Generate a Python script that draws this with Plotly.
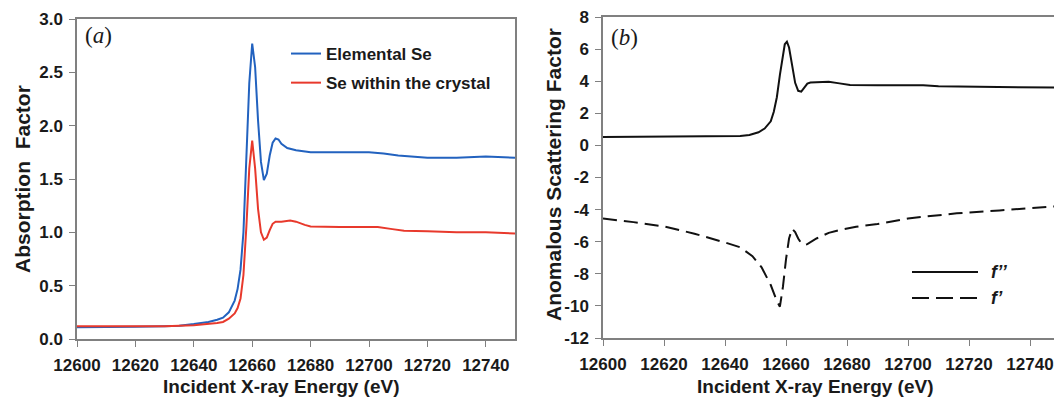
import plotly.graph_objects as go

# ---------------- data ----------------
energy_a = [12600, 12610, 12620, 12630, 12635, 12640, 12645, 12648, 12650, 12652,
            12653, 12654, 12655, 12656, 12657, 12658, 12659, 12660, 12661, 12662,
            12663, 12664, 12665, 12666, 12667, 12668, 12669, 12670, 12672, 12675,
            12680, 12690, 12700, 12705, 12710, 12720, 12730, 12740, 12750]
elemental_se = [0.11, 0.11, 0.115, 0.12, 0.125, 0.14, 0.16, 0.18, 0.20, 0.25,
                0.30, 0.36, 0.47, 0.65, 1.00, 1.70, 2.40, 2.77, 2.55, 2.05,
                1.66, 1.49, 1.55, 1.72, 1.84, 1.88, 1.87, 1.83, 1.79, 1.77,
                1.75, 1.75, 1.75, 1.74, 1.72, 1.70, 1.70, 1.71, 1.70]

energy_b = [12600, 12620, 12630, 12640, 12645, 12648, 12650, 12652, 12654, 12655,
            12656, 12657, 12658, 12659, 12660, 12661, 12662, 12663, 12664, 12665,
            12666, 12667, 12668, 12670, 12673, 12675, 12678, 12680, 12690, 12700,
            12703, 12708, 12712, 12720, 12730, 12740, 12750]
crystal_se = [0.12, 0.12, 0.12, 0.13, 0.14, 0.15, 0.16, 0.19, 0.24, 0.29,
              0.38, 0.60, 1.05, 1.60, 1.86, 1.60, 1.22, 1.00, 0.93, 0.95,
              1.02, 1.08, 1.10, 1.10, 1.11, 1.10, 1.07, 1.055, 1.05, 1.05,
              1.05, 1.03, 1.015, 1.01, 1.00, 1.00, 0.99]

energy_fpp = [12600, 12620, 12640, 12645, 12648, 12651, 12653, 12655, 12656, 12657,
              12658, 12659, 12659.6, 12660.3, 12661, 12662, 12663, 12664, 12665, 12666,
              12667, 12668, 12671, 12674, 12677, 12681, 12690, 12700, 12705, 12710,
              12720, 12730, 12748]
f_double_prime = [0.52, 0.53, 0.56, 0.58, 0.65, 0.82, 1.05, 1.5, 2.1, 3.0,
                  4.4, 5.7, 6.3, 6.46, 6.1, 5.0, 3.9, 3.4, 3.35, 3.6,
                  3.85, 3.92, 3.95, 3.97, 3.88, 3.76, 3.75, 3.76, 3.74, 3.68,
                  3.65, 3.62, 3.6]

energy_fp = [12600, 12610, 12620, 12630, 12640, 12645, 12649, 12652, 12655, 12657,
             12658, 12659, 12660, 12661, 12662, 12663, 12664, 12665, 12666, 12667,
             12670, 12674, 12678, 12683, 12690, 12700, 12705, 12716, 12730, 12740,
             12748]
f_prime = [-4.56, -4.78, -5.05, -5.5, -6.05, -6.35, -6.9, -7.6, -8.7, -9.7,
           -10.05, -8.8, -7.1, -5.8, -5.2, -5.4, -5.8, -6.1, -6.2, -6.15,
           -5.8, -5.45, -5.25, -5.07, -4.9, -4.55, -4.45, -4.23, -4.05, -3.92,
           -3.8]

x_ticks = [12600, 12620, 12640, 12660, 12680, 12700, 12720, 12740]
x_tick_text = ["12600", "12620", "12640", "12660", "12680", "12700", "12720", "12740"]
y_ticks_a = [0.0, 0.5, 1.0, 1.5, 2.0, 2.5, 3.0]
y_tick_text_a = ["0.0", "0.5", "1.0", "1.5", "2.0", "2.5", "3.0"]
y_ticks_b = [-12, -10, -8, -6, -4, -2, 0, 2, 4, 6, 8]
y_tick_text_b = ["-12", "-10", "-8", "-6", "-4", "-2", "0", "2", "4", "6", "8"]

# ---------------- figure ----------------
W, H = 1054, 400
FONT = "Arial, 'Liberation Sans', sans-serif"
AXC = "#808080"
TXT = "#1a1a1a"

def bold(lst):
    return ["<b>%s</b>" % s for s in lst]

fig = go.Figure()
fig.add_trace(go.Scatter(x=energy_a, y=elemental_se, mode="lines", name="<b>Elemental Se</b>",
                         line=dict(color="#2262bf", width=2), xaxis="x", yaxis="y",
                         legendgroup="a1"))
fig.add_trace(go.Scatter(x=energy_b, y=crystal_se, mode="lines", name="<b>Se within the crystal</b>",
                         line=dict(color="#e8392c", width=2), xaxis="x", yaxis="y",
                         legendgroup="a2"))
fig.add_trace(go.Scatter(x=energy_fpp, y=f_double_prime, mode="lines", name="f’’",
                         line=dict(color="#111111", width=2), xaxis="x2", yaxis="y2",
                         showlegend=False))
fig.add_trace(go.Scatter(x=energy_fp, y=f_prime, mode="lines", name="f’",
                         line=dict(color="#111111", width=2, dash="14px,7px"),
                         xaxis="x2", yaxis="y2", showlegend=False))

def px_x(p):
    return p / W

def px_y(p):
    return (H - p) / H

axis_common = dict(showgrid=False, zeroline=False, showline=True, linecolor=AXC, linewidth=1.5,
                   ticks="outside", ticklen=6, tickwidth=1.2, tickcolor=AXC,
                   tickfont=dict(family=FONT, size=17, color=TXT),
                   ticklabeloverflow="allow",
                   automargin=False)

fig.update_layout(
    width=W, height=H,
    margin=dict(l=0, r=0, t=0, b=0),
    paper_bgcolor="white", plot_bgcolor="white",
    font=dict(family=FONT, color=TXT),
    xaxis=dict(axis_common, domain=[px_x(77), px_x(515)], range=[12600, 12750],
               tickvals=x_ticks, ticktext=bold(x_tick_text), mirror=True, anchor="y",
               ticklabelstandoff=4),
    yaxis=dict(axis_common, domain=[px_y(339), px_y(19)], range=[0, 3],
               tickvals=y_ticks_a, ticktext=bold(y_tick_text_a), mirror=True, anchor="x",
               ticklabelstandoff=3),
    xaxis2=dict(axis_common, domain=[px_x(603), 1.0],
                range=[12600, 12600 + (W - 603) / 3.05],
                tickvals=x_ticks, ticktext=bold(x_tick_text), mirror=True, anchor="y2",
                ticklabelstandoff=4),
    yaxis2=dict(axis_common, domain=[px_y(338), px_y(17)], range=[-12, 8],
                tickvals=y_ticks_b, ticktext=bold(y_tick_text_b), mirror=False, anchor="x2",
                ticklabelstandoff=3),
    showlegend=True,
    legend=dict(x=px_x(286), y=px_y(36), xanchor="left", yanchor="top",
                bgcolor="rgba(0,0,0,0)", borderwidth=0, tracegroupgap=4,
                font=dict(family=FONT, size=17, color=TXT)),
)

annotations = [
    dict(text="<b>Absorption&nbsp; Factor</b>", x=px_x(22), y=px_y(179), textangle=-90,
         font=dict(family=FONT, size=21, color=TXT)),
    dict(text="<b>Anomalous Scattering Factor</b>", x=px_x(553), y=px_y(175), textangle=-90,
         font=dict(family=FONT, size=21, color=TXT)),
    dict(text="<b>Incident X-ray Energy (eV)</b>", x=px_x(281), y=px_y(386),
         font=dict(family=FONT, size=19, color=TXT)),
    dict(text="<b>Incident X-ray Energy (eV)</b>", x=px_x(815), y=px_y(386),
         font=dict(family=FONT, size=19, color=TXT)),
    dict(text="(<i>a</i>)", x=px_x(98), y=px_y(36),
         font=dict(family="'Liberation Serif', 'Times New Roman', serif", size=23, color=TXT)),
    dict(text="(<i>b</i>)", x=px_x(624), y=px_y(38),
         font=dict(family="'Liberation Serif', 'Times New Roman', serif", size=23, color=TXT)),
    dict(text="<b><i>f’’</i></b>", x=px_x(989), y=px_y(272), xanchor="left",
         font=dict(family=FONT, size=18, color=TXT)),
    dict(text="<b><i>f’</i></b>", x=px_x(989), y=px_y(298), xanchor="left",
         font=dict(family=FONT, size=18, color=TXT)),
]
for a in annotations:
    a.setdefault("xref", "paper")
    a.setdefault("yref", "paper")
    a.setdefault("showarrow", False)
    a.setdefault("xanchor", "center")
    a.setdefault("yanchor", "middle")
fig.update_layout(annotations=annotations)

# legend key lines for panel (b)
fig.add_shape(type="line", xref="paper", yref="paper",
              x0=px_x(912), x1=px_x(978), y0=px_y(272), y1=px_y(272),
              line=dict(color="#111111", width=2))
fig.add_shape(type="line", xref="paper", yref="paper",
              x0=px_x(912), x1=px_x(978), y0=px_y(298), y1=px_y(298),
              line=dict(color="#111111", width=2, dash="17px,7px"))

fig.write_html("out.html",
               config=dict(displayModeBar=False),
               post_script="document.body.style.margin='0';document.body.style.overflow='hidden';")
